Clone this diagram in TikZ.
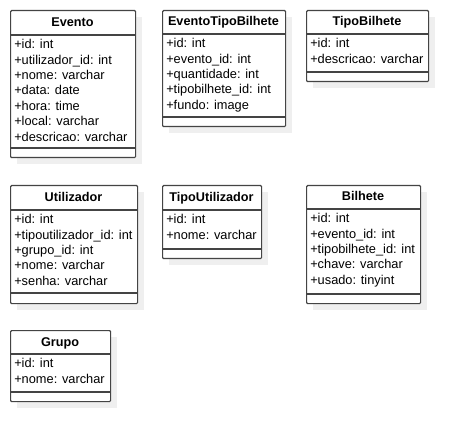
\documentclass[tikz,border=0pt]{standalone}
\usepackage{fontspec}
\setmainfont{Liberation Sans}
\definecolor{strokec}{HTML}{444444}
\definecolor{shadowc}{HTML}{EFEFEF}
\tikzset{x=0.75pt,y=-0.75pt,
  classbox/.style={draw=strokec,line width=0.9pt,fill=white,rounded corners=0.8pt,inner sep=0pt,anchor=north west},
  shadowbox/.style={fill=shadowc,draw=none},
  ctitle/.style={font=\bfseries\fontsize{9.5}{11}\selectfont,inner sep=0pt,text height=6.8pt,text depth=2pt},
  crow/.style={font=\fontsize{9.6}{11}\selectfont,anchor=west,inner sep=0pt,text height=6.8pt,text depth=2pt},
  sepline/.style={draw=strokec,line width=0.9pt}}
% #1 name, #2 x1, #3 y1, #4 x2, #5 header bottom, #6 separator, #7 y2, #8 title, #9 rows
\newcommand\umlclass[9]{%
  \fill[shadowbox] (#2+7,#3+7) rectangle (#4+7,#7+7);
  \node[classbox,minimum width={(#4-#2)*0.75pt},minimum height={(#7-#3)*0.75pt}] (#1) at (#2,#3) {};
  \node[ctitle] (#1-title) at ({(#2+#4)/2},{(#3+#5)/2+0.8}) {#8};
  \draw[sepline] (#2,#5) -- (#4,#5);
  \draw[sepline] (#2,#6) -- (#4,#6);
  \foreach \r [count=\i] in {#9} {
    \node[crow] (#1-r\i) at (#2+4,{#5+10.6+(\i-1)*15.4}) {\r};
  }
}
\begin{document}
\begin{tikzpicture}
\useasboundingbox[fill=white] (0,0) rectangle (468,442);
\umlclass{evento}{10}{10}{135}{35}{148}{157}{Evento}{+id: int,+utilizador\_id: int,+nome: varchar,+data: date,+hora: time,+local: varchar,+descricao: varchar}
\umlclass{etb}{162}{10}{285}{34}{117}{126}{EventoTipoBilhete}{+id: int,+evento\_id: int,+quantidade: int,+tipobilhete\_id: int,+fundo: image}
\umlclass{tipobilhete}{306}{10}{428}{34}{72}{81}{TipoBilhete}{+id: int,+descricao: varchar}
\umlclass{utilizador}{10}{185}{137}{210}{293}{303}{Utilizador}{+id: int,+tipoutilizador\_id: int,+grupo\_id: int,+nome: varchar,+senha: varchar}
\umlclass{tipoutilizador}{162}{185}{261}{210}{249}{258}{TipoUtilizador}{+id: int,+nome: varchar}
\umlclass{bilhete}{306}{185}{420}{209}{294}{303}{Bilhete}{+id: int,+evento\_id: int,+tipobilhete\_id: int,+chave: varchar,+usado: tinyint}
\umlclass{grupo}{10}{330}{110}{354}{392}{401}{Grupo}{+id: int,+nome: varchar}
\end{tikzpicture}
\end{document}
